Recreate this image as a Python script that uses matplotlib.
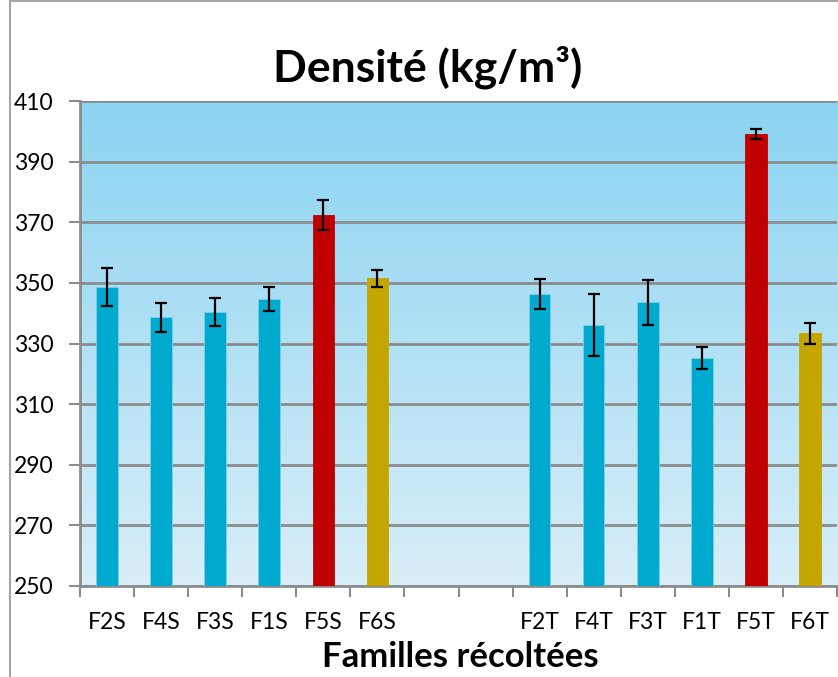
import matplotlib
matplotlib.use("Agg")
import matplotlib.pyplot as plt
import numpy as np
from matplotlib.patches import Rectangle

plt.rcParams['font.family'] = ['Lato', 'DejaVu Sans']

# data (empty slots are the gap between S and T families)
labels = ["F2S", "F4S", "F3S", "F1S", "F5S", "F6S", "", "",
          "F2T", "F4T", "F3T", "F1T", "F5T", "F6T"]
values = [348.7, 338.6, 340.4, 344.7, 372.4, 351.6, None, None,
          346.3, 336.0, 343.6, 325.3, 399.2, 333.4]
errors = [6.2, 4.8, 4.5, 4.1, 4.8, 2.8, None, None,
          4.9, 10.2, 7.5, 3.7, 1.6, 3.4]
groups = ["base", "base", "base", "base", "high", "mid", None, None,
          "base", "base", "base", "base", "high", "mid"]

colours = {"base": "#00A9CE", "high": "#C00000", "mid": "#C4A600"}

W, H = 838, 677
fig = plt.figure(figsize=(W / 100, H / 100), dpi=100)

# outer chart frame
fig.patches.append(Rectangle((10 / W, -0.1), 1.2, 1.1 - 1 / H, transform=fig.transFigure,
                             fill=False, edgecolor="#a6a6a6", linewidth=1.5))

ax = fig.add_axes([80 / W, 1 - 586 / H, 757 / W, 485 / H])

# background gradient
grad = np.linspace(0, 1, 256).reshape(-1, 1)
top = np.array([0x8B, 0xD4, 0xF2]) / 255
bot = np.array([0xD8, 0xEE, 0xF8]) / 255
img = top[None, None, :] * (1 - grad[:, :, None]) + bot[None, None, :] * grad[:, :, None]
ax.imshow(img, extent=[0, 1, 0, 1], transform=ax.transAxes, aspect="auto", zorder=0)

x = np.arange(len(labels))
for i in range(len(labels)):
    if values[i] is None:
        continue
    ax.bar(x[i], values[i] - 250, bottom=250, width=0.4, color=colours[groups[i]],
           edgecolor="#7fd0e6" if groups[i] == "base" else colours[groups[i]],
           linewidth=0.6, zorder=3)
    ax.errorbar(x[i], values[i], yerr=errors[i], fmt="none", ecolor="black",
                elinewidth=1.6, capsize=4.5, capthick=1.6, zorder=4)

ax.set_xlim(-0.5, len(labels) - 0.5)
ax.set_ylim(250, 410)
ax.set_yticks(np.arange(250, 411, 20))
ax.yaxis.grid(True, color="#8c8c8c", linewidth=2)
ax.set_axisbelow(True)
for ln in ax.get_ygridlines():
    ln.set_zorder(1)

ax.set_xticks(x)
ax.set_xticklabels(labels)
ax.set_xticks(np.arange(-0.5, len(labels), 1), minor=True)
ax.tick_params(axis="x", which="major", length=0, pad=19, labelsize=16.5)
ax.tick_params(axis="x", which="minor", length=8, width=1.5, color="#8c8c8c")
ax.tick_params(axis="y", length=8, width=1.5, color="#8c8c8c", pad=11, labelsize=16.5)

for s in ["top", "right"]:
    ax.spines[s].set_visible(False)
for s in ["left", "bottom"]:
    ax.spines[s].set_color("#8c8c8c")
    ax.spines[s].set_linewidth(2)

fig.text(428 / W, 1 - 67 / H, "Densité (kg/m³)", ha="center", va="center",
         fontsize=32, fontweight="bold")
fig.text(460 / W, 1 - 657 / H, "Familles récoltées", ha="center", va="center",
         fontsize=25, fontweight="bold")

fig.savefig("out.png", dpi=100)
